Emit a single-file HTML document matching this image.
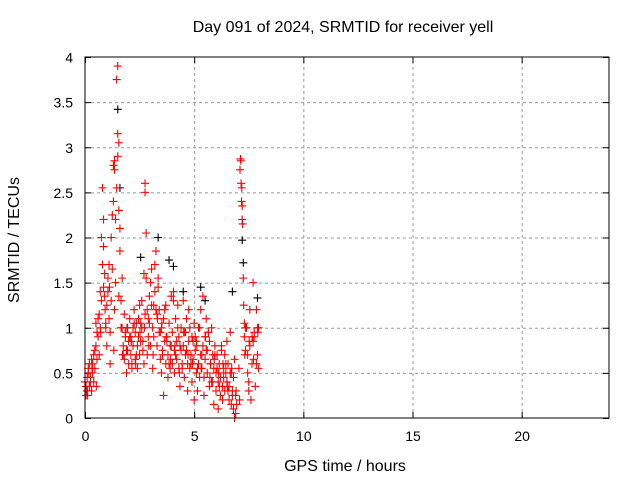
<!DOCTYPE html>
<html><head><meta charset="utf-8">
<style>
html,body{margin:0;padding:0;background:#fff;}
svg{display:block;font-family:"Liberation Sans",sans-serif;}
</style></head>
<body>
<svg id="chart" width="640" height="480" viewBox="0 0 640 480">
<rect x="0" y="0" width="640" height="480" fill="#fff"/>
<text x="343" y="32" font-size="16" text-anchor="middle">Day 091 of 2024, SRMTID for receiver yell</text>
<text x="345" y="471" font-size="16" text-anchor="middle">GPS time / hours</text>
<text x="19" y="240" font-size="16" text-anchor="middle" transform="rotate(-90 19 240)">SRMTID / TECUs</text>
<g id="grid"></g>
<g id="ticks"></g>
<g id="black"></g>
<g id="red"></g>
<rect x="85" y="57" width="524" height="361" fill="none" stroke="#000" stroke-width="1"/>
</svg>
<script>
const xTicks=[0,5,10,15,20];
const yTicks=[0,0.5,1,1.5,2,2.5,3,3.5,4];
const yTickLabels=["0","0.5","1","1.5","2","2.5","3","3.5","4"];
const blackH=[0.1,1.5,1.6,3.35,3.85,4.05,5.3,6.75,7.2,7.25,7.9,2.55,4.5,5.5];
const blackV=[0.3,3.42,2.55,2.0,1.75,1.68,1.45,1.4,1.97,1.72,1.33,1.78,1.4,1.3];
const redH=[0.0,0.05,0.1,0.1,0.15,0.2,0.2,0.25,0.3,0.3,0.35,0.4,0.4,0.45,0.5,0.5,0.55,0.6,0.6,0.65,0.7,0.7,0.75,0.8,0.8,0.85,0.85,0.9,0.9,0.95,1.0,1.0,1.05,1.1,1.1,1.15,1.2,1.2,1.25,1.3,1.3,1.35,1.35,1.4,1.4,1.45,1.5,1.5,1.5,1.55,1.55,1.6,1.6,1.65,1.7,1.7,1.75,1.8,1.8,1.85,1.9,1.9,1.95,2.0,2.0,2.05,2.1,2.1,2.15,2.2,2.2,2.25,2.3,2.3,2.35,2.4,2.4,2.45,2.5,2.5,2.55,2.6,2.6,2.65,2.7,2.7,2.75,2.75,2.8,2.8,2.85,2.9,2.9,2.95,3.0,3.0,3.05,3.1,3.1,3.15,3.2,3.2,3.25,3.3,3.3,3.35,3.4,3.4,3.45,3.5,3.5,3.55,3.6,3.6,3.65,3.7,3.7,3.75,3.8,3.8,3.85,3.9,3.9,3.95,4.0,4.0,4.05,4.1,4.1,4.15,4.2,4.2,4.25,4.3,4.3,4.35,4.4,4.4,4.45,4.5,4.5,4.55,4.6,4.6,4.65,4.7,4.7,4.75,4.8,4.8,4.85,4.9,4.9,4.95,5.0,5.0,5.05,5.1,5.1,5.15,5.2,5.2,5.25,5.3,5.3,5.35,5.4,5.4,5.45,5.5,5.5,5.55,5.6,5.6,5.65,5.7,5.7,5.75,5.8,5.8,5.85,5.9,5.9,5.95,6.0,6.0,6.05,6.1,6.1,6.15,6.2,6.2,6.25,6.3,6.3,6.35,6.4,6.4,6.45,6.5,6.5,6.55,6.6,6.6,6.65,6.7,6.7,6.75,6.8,6.8,6.85,6.9,6.9,6.95,7.0,7.0,7.05];
const redV=[0.4,0.25,0.45,0.3,0.55,0.35,0.6,0.45,0.3,0.65,0.5,0.4,0.7,0.55,0.8,1.05,0.65,0.9,1.1,0.7,1.0,1.4,2.0,2.55,1.7,1.9,2.2,1.35,1.6,1.0,1.25,0.8,1.55,1.1,1.7,0.6,1.3,2.0,2.25,2.8,2.4,2.75,2.85,2.2,1.5,3.75,3.9,3.15,2.9,3.05,2.3,1.85,2.1,1.3,1.0,1.55,0.8,0.65,1.15,0.9,0.5,0.75,1.0,0.6,0.85,1.1,0.7,0.9,0.55,1.0,0.8,1.2,0.65,0.95,1.05,0.55,0.8,1.1,0.7,1.25,0.85,1.3,1.0,0.75,0.6,1.6,2.6,2.5,2.05,1.55,1.2,0.9,1.1,1.35,0.8,1.5,1.65,0.55,1.0,1.25,1.7,1.4,1.85,0.8,1.15,1.45,0.95,1.2,0.65,1.0,0.5,0.75,1.1,0.25,0.85,0.6,1.25,0.9,0.45,0.7,1.05,0.55,0.8,1.35,0.6,0.95,1.4,0.75,0.5,1.1,0.65,0.85,1.25,0.55,0.9,0.35,0.75,1.0,0.6,0.8,1.3,0.45,0.7,0.95,1.1,0.6,0.3,0.85,0.55,1.0,0.7,0.4,0.9,0.65,0.2,1.05,0.75,0.5,0.85,0.3,0.6,1.0,0.45,0.7,1.2,0.55,0.8,1.35,0.25,0.65,0.9,1.1,0.5,0.75,0.95,0.35,0.85,0.6,1.0,0.4,0.7,0.15,0.55,0.8,0.3,0.5,0.7,0.1,0.4,0.6,0.25,0.45,0.8,0.35,0.2,0.55,0.7,0.3,0.5,0.85,0.4,0.6,0.2,0.35,0.95,0.5,0.15,0.3,0.45,0.1,0.0,0.25,0.05];
const spikeH=[7.1,7.12,7.14,7.15,7.17,7.18,7.2,7.2,7.22,7.25,7.27,7.3,7.08,7.35,7.4,7.45,7.5,7.55,7.6,7.65,7.7,7.75,7.8,7.85,7.9,7.95,7.3,7.5,7.7,7.9];
const spikeV=[2.75,2.87,2.85,2.6,2.4,2.55,2.35,2.2,2.15,1.55,1.25,0.9,0.2,0.75,1.0,0.5,0.3,0.8,0.2,0.6,1.5,0.9,0.35,1.2,0.7,0.55,1.05,0.4,0.85,1.0];
const red2H=[0.05,0.15,0.25,0.35,0.45,0.55,0.65,0.75,0.85,0.95,1.05,1.15,1.25,1.35,1.45,1.55,1.65,1.75,1.85,1.95,2.05,2.15,2.25,2.35,2.45,2.55,2.65,2.75,2.85,2.95,3.05,3.15,3.25,3.35,3.45,3.55,3.65,3.75,3.85,3.95,4.05,4.15,4.25,4.35,4.45,4.55,4.65,4.75,4.85,4.95,5.05,5.15,5.25,5.35,5.45,5.55,5.65,5.75,5.85,5.95,6.05,6.15,6.25,6.35,6.45,6.55,6.65,6.75,6.85,6.95,7.05,7.35,7.45,7.55,7.65,7.75,7.85,7.95];
const red2V=[0.35,0.5,0.4,0.6,0.75,0.95,1.15,1.3,1.45,1.05,1.4,0.95,1.65,1.2,2.55,1.35,1.0,0.7,0.95,0.75,0.9,0.6,1.05,0.7,0.9,1.05,0.85,1.15,0.7,1.05,1.25,0.9,1.2,1.55,0.95,0.7,1.2,0.85,0.6,0.8,1.3,0.7,1.0,0.8,0.55,0.95,0.75,1.2,0.6,0.85,0.9,0.55,1.0,0.7,0.45,0.75,0.95,0.6,0.4,0.7,0.55,0.35,0.75,0.45,0.6,0.3,0.5,0.25,0.65,0.15,0.55,1.0,0.7,1.2,0.9,0.95,0.6,1.0];
const red3H=[0.12,0.32,0.52,0.72,0.92,1.12,1.32,1.72,1.92,2.12,2.32,2.52,2.72,2.92,3.12,3.32,3.52,3.72,3.92,4.12,4.32,4.52,4.72,4.92,5.12,5.32,5.52,5.72,5.92,6.12,6.32,6.52,6.72,6.92,7.32,7.52,7.72,7.92];
const red3V=[0.25,0.55,0.35,0.95,1.2,1.45,0.75,0.7,1.0,0.85,0.6,0.95,1.0,0.8,0.7,1.1,1.05,0.9,0.65,0.8,0.5,0.95,0.7,0.6,0.8,0.55,0.9,0.45,0.65,0.5,0.6,0.35,0.55,0.3,0.7,0.85,0.65,0.95];
const x0=85,x1=609,y0=418,y1=57,xMax=24,yMax=4;
const X=h=>x0+(h/xMax)*(x1-x0);
const Y=v=>y0-(v/yMax)*(y0-y1);
const NS="http://www.w3.org/2000/svg";
const grid=document.getElementById('grid'),ticks=document.getElementById('ticks');
function line(g,a,b,c,d,st,dash){const l=document.createElementNS(NS,'line');l.setAttribute('x1',a);l.setAttribute('y1',b);l.setAttribute('x2',c);l.setAttribute('y2',d);l.setAttribute('stroke',st);if(dash)l.setAttribute('stroke-dasharray',dash);g.appendChild(l);return l;}
function txt(s,x,y,anchor){const t=document.createElementNS(NS,'text');t.textContent=s;t.setAttribute('x',x);t.setAttribute('y',y);t.setAttribute('font-size','14');t.setAttribute('text-anchor',anchor);ticks.appendChild(t);return t;}
xTicks.forEach(v=>{const x=X(v)+0.5;
 if(v>0){const g=line(grid,x,y0,x,y1,'#999','3,3');}
 line(ticks,x,y0,x,y0-6,'#000');line(ticks,x,y1,x,y1+6,'#000');
 const t=txt(String(v),x,441,'middle');
 
 
});
yTicks.forEach((v,i)=>{const y=Y(v)+0.5;
 if(v>0&&v<4){const g=line(grid,x0,y,x1,y,'#999','3,3');}
 line(ticks,x0,y,x0+6,y,'#000');line(ticks,x1,y,x1-6,y,'#000');
 const t=txt(yTickLabels[i],73,y+5,'end');
 
 
});
function plus(g,h,v,col){const x=X(h),y=Y(v);
 const p=document.createElementNS(NS,'path');
 p.setAttribute('d',`M${x-4},${y}H${x+4}M${x},${y-4}V${y+4}`);
 p.setAttribute('stroke',col);p.setAttribute('stroke-width','1.1');
 
 
 g.appendChild(p);}
function series(g,H,V,col){const n=Math.min(H.length,V.length);for(let i=0;i<n;i++)plus(g,H[i],V[i],col);}
const bg=document.getElementById('black'),rg=document.getElementById('red');
series(bg,blackH,blackV,'#000');
series(rg,redH,redV,'#f00');
series(rg,spikeH,spikeV,'#f00');
series(rg,red2H,red2V,'#f00');
series(rg,red3H,red3V,'#f00');
</script>
</body></html>
